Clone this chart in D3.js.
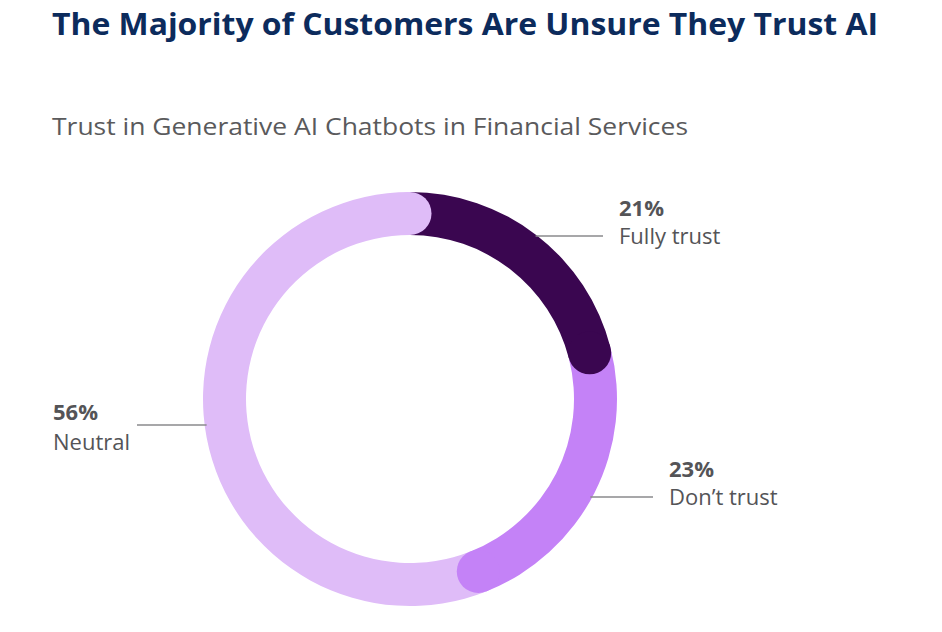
<!DOCTYPE html>
<html>
<head>
<meta charset="utf-8">
<script src="https://cdn.jsdelivr.net/npm/d3@7"></script>
<style>
  body { margin: 0; background: #fff; }
  svg { display: block; }
  .title { font-family: "Open Sans", sans-serif; font-weight: 700; fill: #0c2b5c; }
  .subtitle { font-family: "Open Sans", sans-serif; fill: #5a5a5c; }
  .pct { font-family: "Open Sans", sans-serif; font-weight: 700; fill: #545457; }
  .lbl { font-family: "Open Sans", sans-serif; fill: #545457; }
</style>
</head>
<body>
<svg id="svg" width="942" height="632"></svg>
<script>
const categories = ['Fully trust', "Don\u2019t trust", 'Neutral'];
const values = [21, 23, 56];
const colors = ['#3a0650', '#c482f7', '#dfbcf8'];

const cx = 410, cy = 399;
const rOuter = 207, rInner = 164;
const thick = rOuter - rInner;
const rMid = (rOuter + rInner) / 2;

// label layout: leader line y, text x, anchor side
const labelPos = [
  { y: 236, tx: 619, side: 'right' },
  { y: 497, tx: 669, side: 'right' },
  { y: 425, tx: 53, side: 'left' }
];

const svg = d3.select('#svg');

svg.append('text')
  .attr('class', 'title')
  .attr('x', 52)
  .attr('y', 35)
  .style('font-size', '30px')
  .attr('textLength', 826)
  .attr('lengthAdjust', 'spacingAndGlyphs')
  .text('The Majority of Customers Are Unsure They Trust AI');

svg.append('text')
  .attr('class', 'subtitle')
  .attr('x', 52)
  .attr('y', 135)
  .style('font-size', '24px')
  .attr('textLength', 636)
  .attr('lengthAdjust', 'spacingAndGlyphs')
  .text('Trust in Generative AI Chatbots in Financial Services');

const pie = d3.pie().sort(null).value(d => d);
const arcs = pie(values);

const arc = d3.arc().innerRadius(rInner).outerRadius(rOuter);

const chart = svg.append('g')
  .attr('transform', 'translate(' + cx + ',' + cy + ')');

// leader lines (behind ring)
labelPos.forEach(function(p) {
  const dy = p.y - cy;
  const dx = Math.sqrt(rOuter * rOuter - dy * dy);
  let x1, x2;
  if (p.side === 'right') { x1 = cx + dx - 2; x2 = p.tx - 16; }
  else { x1 = p.tx + 84; x2 = cx - dx + 2; }
  svg.append('line')
    .attr('x1', x1).attr('x2', x2)
    .attr('y1', p.y).attr('y2', p.y)
    .attr('stroke', '#8a8a8c')
    .attr('stroke-width', 1.5);
});

chart.selectAll('path.seg')
  .data(arcs)
  .enter()
  .append('path')
  .attr('class', 'seg')
  .attr('d', arc)
  .style('fill', (d, i) => colors[i]);

// round end caps, drawn on top of the next segment
chart.selectAll('circle.cap')
  .data(arcs)
  .enter()
  .append('circle')
  .attr('class', 'cap')
  .attr('cx', d => rMid * Math.sin(d.endAngle))
  .attr('cy', d => -rMid * Math.cos(d.endAngle))
  .attr('r', thick / 2)
  .style('fill', (d, i) => colors[i]);

labelPos.forEach(function(p, i) {
  svg.append('text')
    .attr('class', 'pct')
    .attr('x', p.tx)
    .attr('y', p.y - (i === 2 ? 5 : 20))
    .style('font-size', '22px')
    .text(values[i] + '%');
  svg.append('text')
    .attr('class', 'lbl')
    .attr('x', p.tx)
    .attr('y', p.y + (i === 2 ? 25 : 8))
    .style('font-size', '22px')
    .text(categories[i]);
});
</script>
</body>
</html>
